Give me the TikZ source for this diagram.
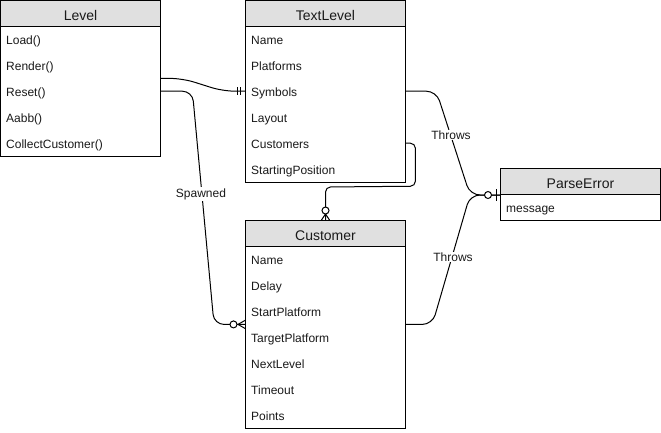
\documentclass[tikz,border=0pt]{standalone}
\usepackage{fontspec}
\setmainfont{Liberation Sans}
\usetikzlibrary{calc}
\definecolor{hdrfill}{HTML}{E0E0E0}
\definecolor{txt}{HTML}{1A1A1A}
\tikzset{
  hdr/.style={draw=black, line width=1pt, fill=hdrfill, minimum width=160pt, minimum height=26pt,
    inner sep=0pt, anchor=north west, font=\fontsize{14}{16}\selectfont, text=txt,
    text height=13.5pt, text depth=0pt},
  body/.style={draw=black, line width=1pt, fill=white, minimum width=160pt, inner sep=0pt, anchor=north west},
  row/.style={minimum height=26pt, text width=148pt, inner xsep=6pt, inner ysep=0pt, align=left,
    anchor=north west, font=\fontsize{12}{14}\selectfont, text=txt,
    text height=11pt, text depth=0pt},
  conn/.style={draw=black, line width=1pt},
  lbl/.style={fill=white, inner sep=1pt, font=\fontsize{12}{14}\selectfont, text=txt},
  mk/.style={draw=black, line width=1pt},
}
\begin{document}
\begin{tikzpicture}[x=1pt,y=-1pt]
\useasboundingbox (0,0) rectangle (661,432);

% Level
\node[body, minimum height=130pt] (lvB) at (0,26) {};
\node[hdr] (lvH) at (0,0) {Level};
\node[row] (lvLoad) at (0,26) {Load()};
\node[row] (lvRender) at (0,52) {Render()};
\node[row] (lvReset) at (0,78) {Reset()};
\node[row] (lvAabb) at (0,104) {Aabb()};
\node[row] (lvColl) at (0,130) {CollectCustomer()};

% TextLevel
\node[body, minimum height=156pt] (tlB) at (245,26) {};
\node[hdr] (tlH) at (245,0) {TextLevel};
\node[row] (tlName) at (245,26) {Name};
\node[row] (tlPlat) at (245,52) {Platforms};
\node[row] (tlSym) at (245,78) {Symbols};
\node[row] (tlLay) at (245,104) {Layout};
\node[row] (tlCust) at (245,130) {Customers};
\node[row] (tlStart) at (245,156) {StartingPosition};

% Customer
\node[body, minimum height=182pt] (cuB) at (245,246) {};
\node[hdr] (cuH) at (245,220) {Customer};
\node[row] (cuName) at (245,246) {Name};
\node[row] (cuDelay) at (245,272) {Delay};
\node[row] (cuStart) at (245,298) {StartPlatform};
\node[row] (cuTarget) at (245,324) {TargetPlatform};
\node[row] (cuNext) at (245,350) {NextLevel};
\node[row] (cuTime) at (245,376) {Timeout};
\node[row] (cuPts) at (245,402) {Points};

% ParseError
\node[body, minimum height=26pt] (peB) at (500,194) {};
\node[hdr] (peH) at (500,168) {ParseError};
\node[row] (peMsg) at (500,194) {message};

% Level.Render -> TextLevel.Symbols (one and only one)
\draw[conn, rounded corners=12pt] (lvRender.south east) -- ++(22,0)
  -- ($(tlSym.west)+(-22,0)$) -- (tlSym.west);
\draw[mk] ($(tlSym.west)+(-8,-4)$) -- ++(0,8);
\draw[mk] ($(tlSym.west)+(-5,-4)$) -- ++(0,8);

% Level.Reset -> Customer (zero or many), Spawned
\draw[conn, rounded corners=10pt] (lvReset.east) -- ++(32,0)
  -- ($(cuStart.south west)+(-31,0)$) -- (cuStart.south west);
\node[lbl] (spawned) at (201,194) {Spawned};
\draw[mk, fill=white] ($(cuStart.south west)+(-11.5,0)$) circle (3.5pt);
\draw[mk] ($(cuStart.south west)+(-7,0)$) -- ($(cuStart.south west)+(0,-4)$);
\draw[mk] ($(cuStart.south west)+(-7,0)$) -- ($(cuStart.south west)+(0,4)$);

% TextLevel.Customers -> Customer (zero or many)
\draw[conn, rounded corners=5pt] (tlCust.east) -- ++(10,0) -- ++(0,43)
  -- (cuH.north |- 0,187) -- (cuH.north);
\draw[mk, fill=white] ($(cuH.north)+(0,-9.5)$) circle (3.5pt);
\draw[mk] ($(cuH.north)+(0,-6)$) -- ($(cuH.north)+(-4,0)$);
\draw[mk] ($(cuH.north)+(0,-6)$) -- ($(cuH.north)+(4,0)$);

% Throws edges -> ParseError (zero or one)
\draw[conn, rounded corners=10pt] (tlSym.east) -- ++(31,0)
  -- ($(peH.south west)+(-30,0)$) -- (peH.south west);
\draw[conn, rounded corners=10pt] (cuStart.south east) -- ++(27,0)
  -- ($(peH.south west)+(-30,0)$) -- (peH.south west);
\node[lbl] (throws1) at (451,135) {Throws};
\node[lbl] (throws2) at (453,257) {Throws};
\draw[mk, fill=white] ($(peH.south west)+(-12,0)$) circle (3.5pt);
\draw[mk] ($(peH.south west)+(-4,-6)$) -- ++(0,12);

\end{tikzpicture}
\end{document}
